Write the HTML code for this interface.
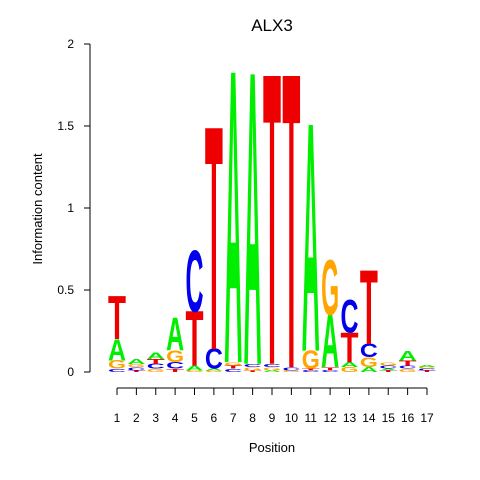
<!DOCTYPE html>
<html><head><meta charset="utf-8"><style>body{margin:0;background:#fff}svg{display:block}</style></head>
<body>
<svg width="480" height="480" font-family="Liberation Sans, sans-serif">
<text x="272" y="31" font-size="17" text-anchor="middle">ALX3</text>
<g id="yaxis"></g>
<g id="xaxis"></g>
<text x="272" y="452" font-size="13" text-anchor="middle">Position</text>
<text transform="translate(42,209) rotate(-90)" font-size="13" text-anchor="middle">Information content</text>
<g id="logo"></g>
</svg>
<script>
const positions = [1,2,3,4,5,6,7,8,9,10,11,12,13,14,15,16,17];
// stacks bottom-to-top: [letter, bits]
const stacks = [
 [["C",.02],["G",.05],["A",.13],["T",.26]],
 [["T",.01],["C",.02],["G",.02],["A",.03]],
 [["G",.02],["C",.03],["T",.03],["A",.04]],
 [["T",.02],["C",.04],["G",.07],["A",.2]],
 [["G",.01],["A",.03],["T",.33],["C",.37]],
 [["G",.01],["A",.01],["C",.12],["T",1.35]],
 [["C",.02],["T",.02],["G",.02],["A",1.77]],
 [["T",.01],["G",.02],["C",.02],["A",1.77]],
 [["A",.01],["G",.02],["C",.02],["T",1.76]],
 [["G",.01],["C",.02],["T",1.78]],
 [["C",.01],["T",.01],["G",.11],["A",1.38]],
 [["C",.01],["T",.02],["A",.32],["G",.33]],
 [["G",.03],["A",.03],["T",.18],["C",.2]],
 [["A",.03],["G",.06],["C",.08],["T",.45]],
 [["T",.01],["A",.01],["C",.02],["G",.02]],
 [["G",.02],["C",.02],["T",.03],["A",.06]],
 [["T",.01],["C",.01],["G",.01],["A",.01]]
];
const yTicks = [0,0.5,1,1.5,2];
const yTickLabels = ["0","0.5","1","1.5","2"];
const colors = {A:"#00ee00",C:"#0000ee",G:"#ffa500",T:"#ee0000"};
const NS="http://www.w3.org/2000/svg";
const y0=372, yPer=164, xs=i=>117+(i-1)*19.375, colW=18;
const yScale=v=>y0-v*yPer;
function mk(tag,attrs,parent){const e=document.createElementNS(NS,tag);for(const k in attrs)e.setAttribute(k,attrs[k]);parent.appendChild(e);return e;}
const ya=document.getElementById('yaxis');
mk('line',{x1:90,x2:90,y1:yScale(2),y2:yScale(0),stroke:'#000'},ya);
yTicks.forEach((t,i)=>{
 const yy=yScale(t);
 mk('line',{x1:84,x2:90,y1:yy,y2:yy,stroke:'#000'},ya);
 const tx=mk('text',{x:74,y:yy+4,'font-size':12,'text-anchor':'end'},ya);
 
 
 tx.textContent=yTickLabels[i];
});
const xa=document.getElementById('xaxis');
mk('line',{x1:xs(1),x2:xs(17),y1:388,y2:388,stroke:'#000'},xa);
positions.forEach(p=>{
 mk('line',{x1:xs(p),x2:xs(p),y1:388,y2:395,stroke:'#000'},xa);
 const tx=mk('text',{x:xs(p),y:422,'font-size':12,'text-anchor':'middle'},xa);
 
 
 tx.textContent=p;
});
const logo=document.getElementById('logo');
stacks.forEach((st,i)=>{
 const p=positions[i];let cum=0;
 const g=mk('g',{},logo);
 
 
 st.forEach(([L,h])=>{
  const base=yScale(cum), hp=h*yPer; cum+=h;
  if(hp<0.3) return;
  const t=mk('text',{x:0,y:0,'font-size':100,'font-weight':'bold',fill:colors[L],lengthAdjust:'spacingAndGlyphs',
   transform:`translate(${xs(p)-colW/2},${base}) scale(1,${hp/69})`},g);
  t.setAttribute('textLength',colW);
  
  
  t.textContent=L;
 });
});
</script>
</body></html>
